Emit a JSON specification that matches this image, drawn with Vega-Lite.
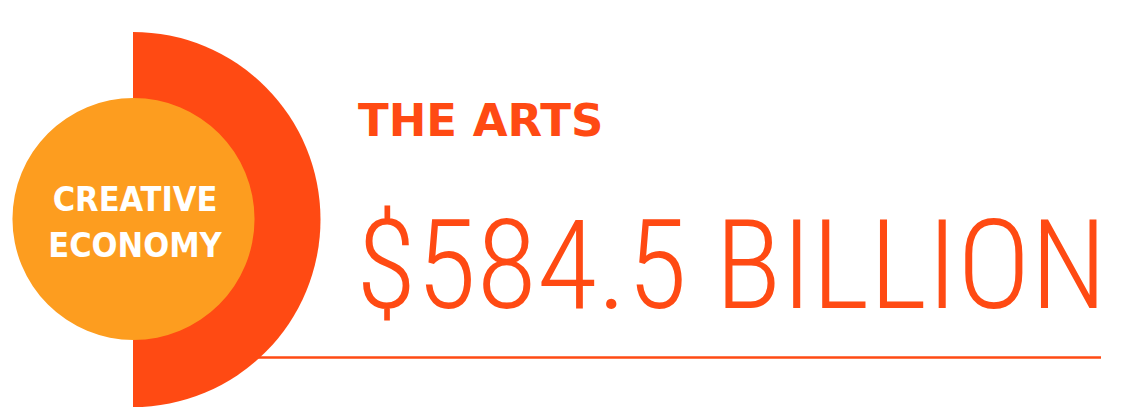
{
  "$schema": "https://vega.github.io/schema/vega-lite/v6.json",
  "width": 1121,
  "height": 409,
  "padding": 0,
  "autosize": {"type": "none"},
  "background": "white",
  "config": {"view": {"stroke": null}},
  "layer": [
    {
      "data": {"values": [{"x": 255, "x2": 1101, "y": 357.5}]},
      "mark": {"type": "rule", "color": "#FF4A13", "strokeWidth": 2.5},
      "encoding": {
        "x": {"field": "x", "type": "quantitative", "scale": {"domain": [0, 1121]}, "axis": null},
        "x2": {"field": "x2"},
        "y": {"field": "y", "type": "quantitative", "scale": {"domain": [0, 409], "reverse": true}, "axis": null}
      }
    },
    {
      "data": {"values": [
        {"shape": "half", "cx": 133, "cy": 219.5, "r": 187.5, "t0": 0, "t1": 180},
        {"shape": "circle", "cx": 133.5, "cy": 219, "r": 121, "t0": 0, "t1": 360}
      ]},
      "mark": {"type": "arc"},
      "encoding": {
        "x": {"field": "cx", "type": "quantitative", "scale": {"domain": [0, 1121]}, "axis": null},
        "y": {"field": "cy", "type": "quantitative", "scale": {"domain": [0, 409], "reverse": true}, "axis": null},
        "theta": {"field": "t0", "type": "quantitative", "scale": {"type": "linear", "domain": [0, 360], "range": [0, 6.283185307]}},
        "theta2": {"field": "t1"},
        "radius": {"field": "r", "type": "quantitative", "scale": {"type": "linear", "domain": [0, 409], "range": [0, 409], "zero": true}},
        "color": {"field": "shape", "type": "nominal", "scale": {"domain": ["half", "circle"], "range": ["#FF4A13", "#FD9D1F"]}, "legend": null},
        "order": {"field": "r", "sort": "descending"}
      }
    },
    {
      "data": {"values": [
        {"label": "CREATIVE", "x": 135, "y": 211},
        {"label": "ECONOMY", "x": 135, "y": 257}
      ]},
      "mark": {"type": "text", "font": "DejaVu Sans Condensed", "fontWeight": "bold", "fontSize": 34, "color": "white", "align": "center", "baseline": "alphabetic"},
      "encoding": {
        "x": {"field": "x", "type": "quantitative", "scale": {"domain": [0, 1121]}, "axis": null},
        "y": {"field": "y", "type": "quantitative", "scale": {"domain": [0, 409], "reverse": true}, "axis": null},
        "text": {"field": "label"}
      }
    },
    {
      "data": {"values": [{"label": "THE ARTS", "x": 358, "y": 136}]},
      "mark": {"type": "text", "font": "DejaVu Sans", "fontWeight": "bold", "fontSize": 45, "color": "#FF4A13", "align": "left", "baseline": "alphabetic"},
      "encoding": {
        "x": {"field": "x", "type": "quantitative", "scale": {"domain": [0, 1121]}, "axis": null},
        "y": {"field": "y", "type": "quantitative", "scale": {"domain": [0, 409], "reverse": true}, "axis": null},
        "text": {"field": "label"}
      }
    },
    {
      "data": {"values": [{"label": "$584.5 BILLION", "x": 356, "y": 308}]},
      "mark": {"type": "text", "font": "Roboto Condensed", "fontWeight": 300, "fontSize": 124, "color": "#FF4A13", "align": "left", "baseline": "alphabetic"},
      "encoding": {
        "x": {"field": "x", "type": "quantitative", "scale": {"domain": [0, 1121]}, "axis": null},
        "y": {"field": "y", "type": "quantitative", "scale": {"domain": [0, 409], "reverse": true}, "axis": null},
        "text": {"field": "label"}
      }
    }
  ]
}
